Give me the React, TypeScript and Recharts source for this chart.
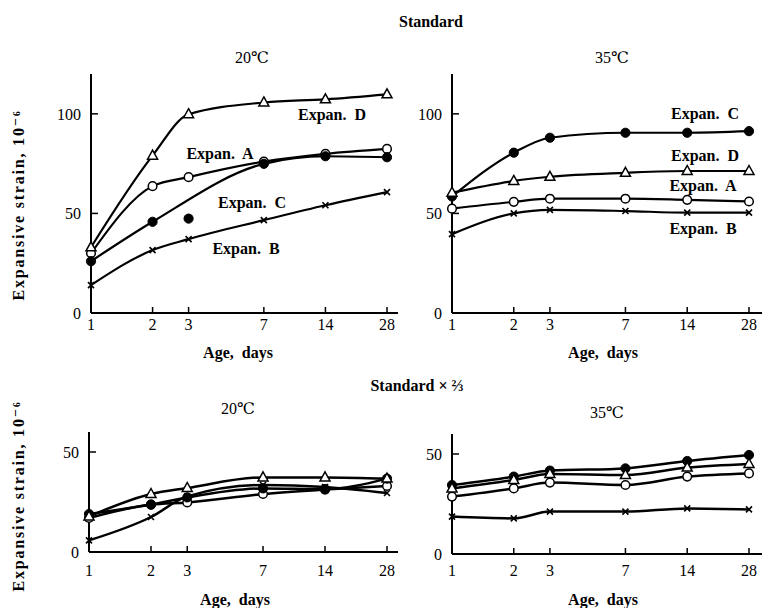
import React from 'react';
import { LineChart, Line, XAxis, YAxis } from 'recharts';

// Age in days (x categories, log-spaced)
const days = [1, 2, 3, 7, 14, 28];
const dayTicks = [1, 2, 3, 7, 14, 28];
const topTicks = [0, 50, 100];
const bottomTicks = [0, 50];

// Standard, 20°C
const std20A = [30, 63.7, 68.2, 76, 79.9, 82.4];
const std20B = [14, 31.6, 37.1, 46.6, 54.1, 60.7];
const std20C = [26, 45.8, null, 74.9, 78.7, 78.2];
const std20COff = [null, null, 47.4, null, null, null];
const std20D = [33, 79, 99.8, 105.7, 107.3, 109.8];

// Standard, 35°C
const std35A = [52.4, 55.8, 57.4, 57.4, 56.8, 56];
const std35B = [39.6, 50, 51.8, 51.2, 50.4, 50.4];
const std35C = [58.5, 80.5, 88, 90.5, 90.5, 91.3];
const std35D = [60.4, 66.3, 68.4, 70.4, 71.3, 71.3];

// Standard x 2/3, 20°C
const red20A = [17, 23.7, 24.8, 29, 31.2, 33];
const red20B = [5.8, 17.5, 27.8, 33.5, 32.5, 29.5];
const red20C = [19, 23.7, 27.3, 31.8, 31.5, 36.7];
const red20D = [17.8, 29, 32, 37.3, 37.3, 36.7];

// Standard x 2/3, 35°C
const red35A = [28.7, 32.8, 35.7, 34.5, 38.7, 40.3];
const red35B = [18.7, 17.8, 21.2, 21.2, 22.8, 22.3];
const red35C = [34.5, 38.7, 41.7, 42.8, 46.5, 49.5];
const red35D = [32.8, 37, 40, 39.5, 43.2, 45];

const SERIF = '"Liberation Serif", "DejaVu Serif", serif';

type Num = number | null;
const rows = (A: Num[], B: Num[], C: Num[], D: Num[], Coff?: Num[]) =>
  days.map((d, i) => ({ day: d, A: A[i], B: B[i], C: C[i], D: D[i], Coff: Coff ? Coff[i] : null }));

const ok = (p: any) => p && p.cx != null && p.cy != null && p.value != null && !Number.isNaN(p.cy);

const triDot = (p: any) => {
  if (!ok(p)) return <g key={`t${p.index}`} />;
  const { cx, cy } = p;
  return (
    <path key={`t${p.index}`} d={`M${cx},${cy - 5.5} L${cx + 5},${cy + 3.5} L${cx - 5},${cy + 3.5} Z`}
      fill="#fff" stroke="#000" strokeWidth={1.5} />
  );
};
const openDot = (p: any) => {
  if (!ok(p)) return <g key={`o${p.index}`} />;
  return <circle key={`o${p.index}`} cx={p.cx} cy={p.cy} r={4.3} fill="#fff" stroke="#000" strokeWidth={1.5} />;
};
const fillDot = (p: any) => {
  if (!ok(p)) return <g key={`f${p.index}`} />;
  return <circle key={`f${p.index}`} cx={p.cx} cy={p.cy} r={4.6} fill="#000" stroke="#000" />;
};
const crossDot = (p: any) => {
  if (!ok(p)) return <g key={`x${p.index}`} />;
  const { cx, cy } = p;
  return (
    <path key={`x${p.index}`} d={`M${cx - 3},${cy - 3} L${cx + 3},${cy + 3} M${cx + 3},${cy - 3} L${cx - 3},${cy + 3}`}
      stroke="#000" strokeWidth={1.6} fill="none" />
  );
};

type PanelProps = {
  data: any[];
  left: number;
  top: number;
  width: number;
  height: number;
  margin: { top: number; right: number; left: number; bottom: number };
  yMax: number;
  yTicks: number[];
  padRight: number;
  xTickMargin: number;
  strokeW: number;
};

const Panel = ({ data, left, top, width, height, margin, yMax, yTicks, padRight, xTickMargin, strokeW }: PanelProps) => (
  <div style={{ position: 'absolute', left, top }}>
    <LineChart width={width} height={height} data={data} margin={margin}>
      <XAxis
        dataKey="day"
        type="number"
        scale="log"
        domain={[1, 28]}
        ticks={dayTicks}
        interval={0}
        padding={{ left: 0, right: padRight }}
        height={30}
        axisLine={{ stroke: '#000', strokeWidth: 2 }}
        tickLine={{ stroke: '#000', strokeWidth: 1.5 }}
        tickSize={-6}
        tickMargin={xTickMargin}
        tick={{ fill: '#000', fontSize: 16, fontFamily: SERIF }}
      />
      <YAxis
        type="number"
        domain={[0, yMax]}
        ticks={yTicks}
        width={60}
        axisLine={{ stroke: '#000', strokeWidth: 2 }}
        tickLine={{ stroke: '#000', strokeWidth: 1.5 }}
        tickSize={-7}
        tickMargin={17}
        tick={{ fill: '#000', fontSize: 16, fontFamily: SERIF }}
      />
      <Line dataKey="B" type="monotone" stroke="#000" strokeWidth={strokeW} dot={crossDot} activeDot={false} isAnimationActive={false} connectNulls />
      <Line dataKey="A" type="monotone" stroke="#000" strokeWidth={strokeW} dot={openDot} activeDot={false} isAnimationActive={false} connectNulls />
      <Line dataKey="C" type="monotone" stroke="#000" strokeWidth={strokeW} dot={fillDot} activeDot={false} isAnimationActive={false} connectNulls />
      <Line dataKey="Coff" type="monotone" stroke="none" dot={fillDot} activeDot={false} isAnimationActive={false} />
      <Line dataKey="D" type="monotone" stroke="#000" strokeWidth={strokeW} dot={triDot} activeDot={false} isAnimationActive={false} connectNulls />
    </LineChart>
  </div>
);

const T = ({ x, y, children, bold = false, size = 15, spacing = 0 }: any) => (
  <div
    style={{
      position: 'absolute',
      left: x,
      top: y,
      transform: 'translate(-50%, -50%)',
      fontFamily: SERIF,
      fontWeight: bold ? 700 : 400,
      fontSize: size,
      letterSpacing: spacing,
      whiteSpace: 'pre',
      lineHeight: 1,
      color: '#000',
    }}
  >
    {children}
  </div>
);

const YLabel = ({ x, y }: { x: number; y: number }) => (
  <div
    style={{
      position: 'absolute',
      left: x,
      top: y,
      transform: 'translate(-50%, -50%) rotate(-90deg)',
      fontFamily: SERIF,
      fontWeight: 700,
      fontSize: 16,
      letterSpacing: 1.8,
      whiteSpace: 'pre',
      lineHeight: 1,
      color: '#000',
    }}
  >
    Expansive strain, 10⁻⁶
  </div>
);

export default function App() {
  return (
    <div style={{ position: 'absolute', left: 0, top: 0, width: 762, height: 608, background: '#fff', overflow: 'hidden' }}>
      <Panel data={rows(std20A, std20B, std20C, std20D, std20COff)} left={0} top={0} width={400} height={343}
        margin={{ top: 74, right: 2, left: 31, bottom: 0 }} yMax={120} yTicks={topTicks} padRight={11} xTickMargin={12} strokeW={2.2} />
      <Panel data={rows(std35A, std35B, std35C, std35D)} left={360} top={0} width={402} height={343}
        margin={{ top: 74, right: 0, left: 32, bottom: 0 }} yMax={120} yTicks={topTicks} padRight={13} xTickMargin={12} strokeW={2.2} />
      <Panel data={rows(red20A, red20B, red20C, red20D)} left={0} top={350} width={400} height={232}
        margin={{ top: 82, right: 2, left: 29, bottom: 0 }} yMax={60} yTicks={bottomTicks} padRight={11} xTickMargin={19} strokeW={2.5} />
      <Panel data={rows(red35A, red35B, red35C, red35D)} left={360} top={350} width={402} height={234}
        margin={{ top: 84, right: 0, left: 32, bottom: 0 }} yMax={60} yTicks={bottomTicks} padRight={13} xTickMargin={17} strokeW={2.5} />

      <T x={431} y={22} bold size={16}>Standard</T>
      <T x={252} y={58} size={16}>20℃</T>
      <T x={612} y={58} size={16}>35℃</T>
      <T x={238} y={353} bold size={16}>Age,  days</T>
      <T x={603} y={353} bold size={16}>Age,  days</T>

      <T x={417} y={386} bold size={16}>Standard × ⅔</T>
      <T x={238} y={409} size={16}>20℃</T>
      <T x={607} y={413} size={16}>35℃</T>
      <T x={235} y={600} bold size={16}>Age,  days</T>
      <T x={603} y={600} bold size={16}>Age,  days</T>

      <YLabel x={19} y={205} />
      <YLabel x={19} y={496} />

      <T x={332} y={115} bold size={16}>Expan.  D</T>
      <T x={220} y={154} bold size={16}>Expan.  A</T>
      <T x={252} y={203} bold size={16}>Expan.  C</T>
      <T x={246} y={249} bold size={16}>Expan.  B</T>

      <T x={705} y={114} bold size={16}>Expan.  C</T>
      <T x={705} y={156} bold size={16}>Expan.  D</T>
      <T x={703} y={186} bold size={16}>Expan.  A</T>
      <T x={703} y={229} bold size={16}>Expan.  B</T>
    </div>
  );
}
